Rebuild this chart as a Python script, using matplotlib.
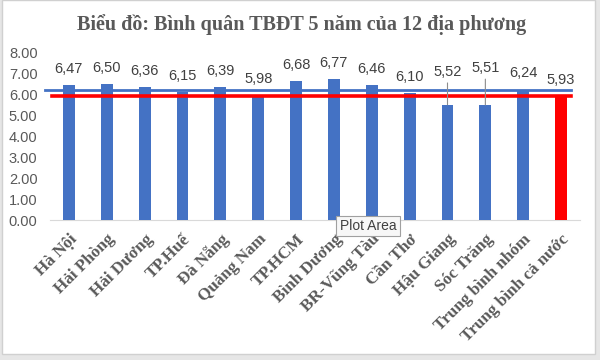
import numpy as np
import matplotlib.pyplot as plt
from matplotlib.patches import Rectangle

# Dữ liệu
dia_phuong = ["Hà Nội", "Hải Phòng", "Hải Dương", "TP.Huế", "Đà Nẵng", "Quảng Nam",
              "TP.HCM", "Bình Dương", "BR-Vũng Tàu", "Cần Thơ", "Hậu Giang",
              "Sóc Trăng", "Trung bình nhóm", "Trung bình cả nước"]
binh_quan = [6.47, 6.50, 6.36, 6.15, 6.39, 5.98, 6.68, 6.77, 6.46, 6.10, 5.52,
             5.51, 6.24, 5.93]
tb_nhom = 6.24
tb_ca_nuoc = 5.93
y_ticks = [0, 1, 2, 3, 4, 5, 6, 7, 8]

BLUE = "#4472C4"
GRAY = "#595959"

fig = plt.figure(figsize=(6, 3.6), dpi=100)
fig.patch.set_facecolor("#e6e6e6")
# nền trắng của khung biểu đồ
fig.patches.append(Rectangle((2 / 600, 1 - 354 / 360), 593 / 600, 354 / 360,
                             transform=fig.transFigure, facecolor="white",
                             edgecolor="#d0d0d0", lw=1, zorder=-5))

ax = fig.add_axes([50 / 600, 1 - 220 / 360, 530 / 600, 167 / 360])
ax.set_facecolor("none")

x = np.arange(len(dia_phuong))
colors = [BLUE] * (len(x) - 1) + ["#FF0000"]
ax.bar(x, binh_quan, width=0.31, color=colors, zorder=2)

ax.set_xlim(-0.5, len(x) - 0.5)
ax.set_ylim(0, 8)

# đường trung bình
ax.plot([-0.62, 13.27], [tb_nhom, tb_nhom], color=BLUE, lw=2, zorder=3, clip_on=False)
ax.plot([-0.45, 13.27], [tb_ca_nuoc, tb_ca_nuoc], color="#FF0000", lw=2.6, zorder=3,
        clip_on=False)

# nhãn dữ liệu (khoảng lệch tính bằng pixel)
offsets = [16, 16, 16, 16, 16, 16, 16, 16, 16, 16, 33, 37, 17, 16]
for xi, v, off in zip(x, binh_quan, offsets):
    txt = f"{v:.2f}".replace(".", ",")
    kw = {}
    if off > 25:
        kw["arrowprops"] = dict(arrowstyle="-", color="#8c8c8c", lw=0.8,
                                shrinkA=1, shrinkB=0)
    ax.annotate(txt, xy=(xi, v), xytext=(0, off), textcoords="offset pixels",
                ha="center", va="center", fontsize=10.5, color="#404040",
                family="Liberation Sans", zorder=4, **kw)

ax.set_yticks(y_ticks)
ax.set_yticklabels([f"{t:.2f}" for t in y_ticks], fontsize=10.5, color=GRAY,
                   family="Liberation Sans")
ax.set_xticks(x)
ax.set_xticklabels(dia_phuong, rotation=45, ha="right", rotation_mode="anchor",
                   fontsize=12.3, fontweight="bold", color=GRAY,
                   family="Liberation Serif")
ax.tick_params(axis="both", length=0)
ax.tick_params(axis="x", pad=8)
ax.tick_params(axis="y", pad=9)

for s in ["top", "right", "left"]:
    ax.spines[s].set_visible(False)
ax.spines["bottom"].set_color("#d9d9d9")
ax.spines["bottom"].set_zorder(1)

fig.text(0.503, 1 - 25 / 360, "Biểu đồ: Bình quân TBĐT 5 năm của 12 địa phương",
         ha="center", va="center", fontsize=14.5, fontweight="bold",
         color=GRAY, family="Liberation Serif")

# chú thích "Plot Area" của Excel
fig.text(368 / 600, 1 - 226 / 360, "Plot Area", ha="center", va="center",
         fontsize=10, color="#404040", family="Liberation Sans", zorder=10,
         bbox=dict(boxstyle="square,pad=0.25", facecolor="#f7f7f7",
                   edgecolor="#a0a0a0", lw=0.8))

fig.savefig("out.png", dpi=100)
